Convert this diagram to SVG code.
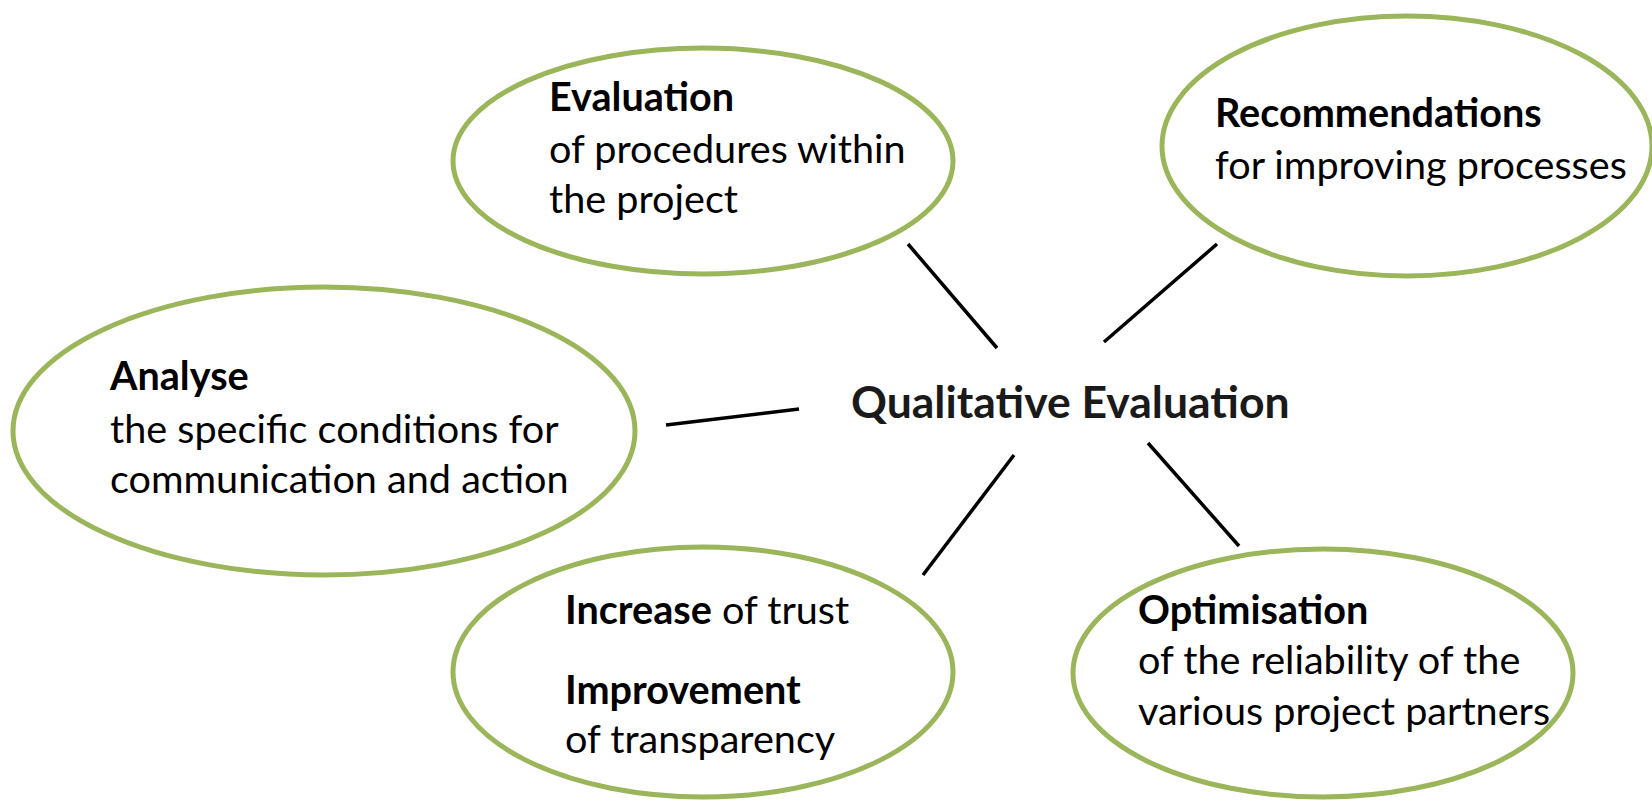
<svg xmlns="http://www.w3.org/2000/svg" width="1652" height="801" viewBox="0 0 1652 801">
<style>
.node ellipse{fill:#ffffff;stroke:#9bb55a;stroke-width:5}
text{font-family:Lato,"Open Sans","Liberation Sans",sans-serif;font-size:39.6px;fill:#000}
.b{font-weight:bold}
.title{font-size:44.5px;font-weight:bold;fill:#1a1a1a}
.conn line{stroke:#000;stroke-width:3.5}
</style>
<rect width="1652" height="801" fill="#ffffff"/>
<g id="node-evaluation" class="node">
<ellipse cx="703" cy="161" rx="250" ry="113"/>
<text x="549" y="111" class="b">Evaluation</text>
<text x="549" y="163">of procedures within</text>
<text x="549" y="213">the project</text>
</g>
<g id="node-recommendations" class="node">
<ellipse cx="1407" cy="146" rx="245" ry="130"/>
<text x="1215" y="127" class="b">Recommendations</text>
<text x="1215" y="179">for improving processes</text>
</g>
<g id="node-analyse" class="node">
<ellipse cx="324" cy="431" rx="311" ry="144"/>
<text x="110" y="390" class="b">Analyse</text>
<text x="110" y="443">the specific conditions for</text>
<text x="110" y="493">communication and action</text>
</g>
<g id="node-increase" class="node">
<ellipse cx="703" cy="672" rx="250" ry="125"/>
<text x="565" y="624"><tspan class="b">Increase</tspan> of trust</text>
<text x="565" y="704" class="b">Improvement</text>
<text x="565" y="753">of transparency</text>
</g>
<g id="node-optimisation" class="node">
<ellipse cx="1323" cy="673" rx="250" ry="124"/>
<text x="1138" y="624" class="b">Optimisation</text>
<text x="1138" y="674">of the reliability of the</text>
<text x="1138" y="725">various project partners</text>
</g>
<g id="node-center">
<text x="851" y="418" class="title">Qualitative Evaluation</text>
</g>
<g id="connectors" class="conn">
<line x1="908" y1="244" x2="997" y2="348"/>
<line x1="1217" y1="244" x2="1104" y2="342"/>
<line x1="666" y1="425" x2="799" y2="409"/>
<line x1="1014" y1="455" x2="923" y2="575"/>
<line x1="1148" y1="443" x2="1239" y2="546"/>
</g>
</svg>
